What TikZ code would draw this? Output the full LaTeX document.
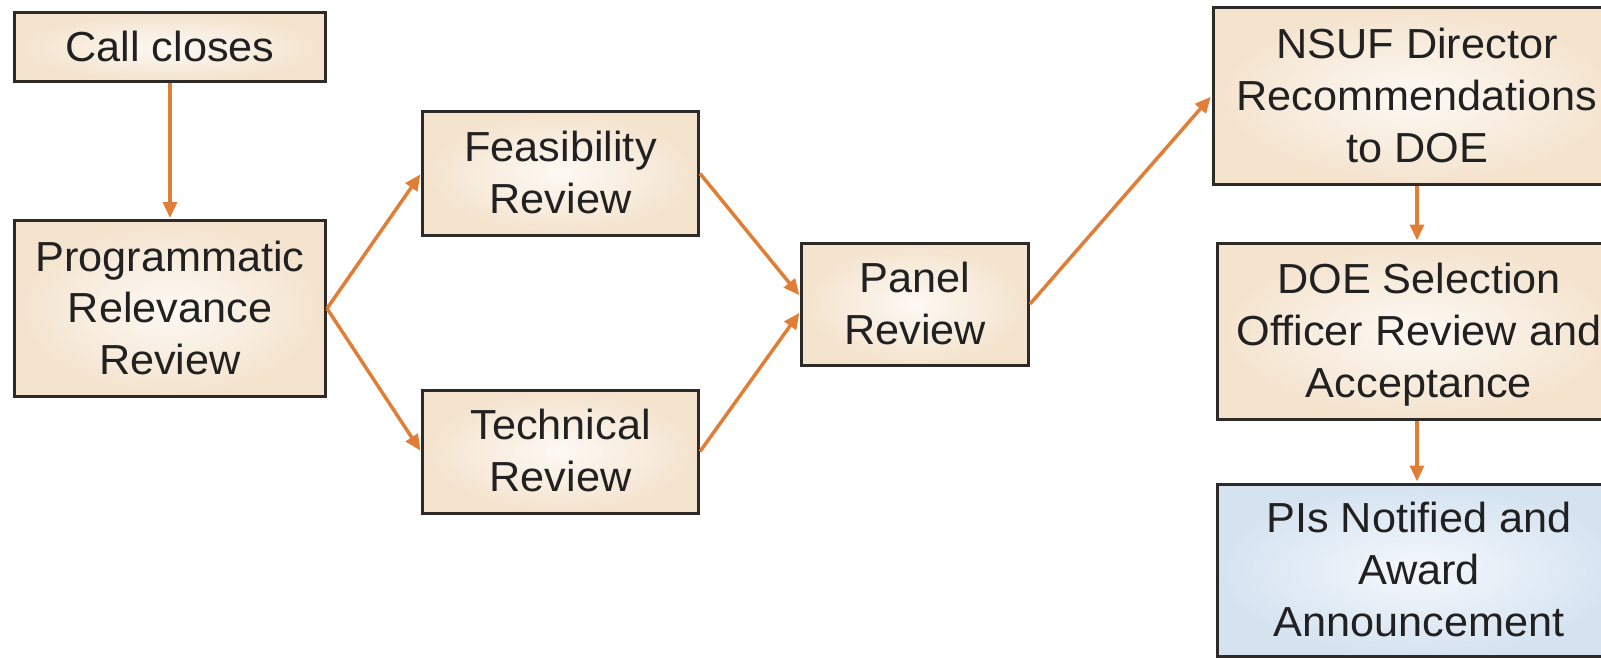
\documentclass[tikz,border=0pt]{standalone}
\usepackage{fontspec}
\setmainfont{Liberation Sans}
\usepackage{graphicx}
\usetikzlibrary{arrows.meta}
\definecolor{boxedge}{HTML}{2E2A27}
\definecolor{beigeout}{HTML}{F4E3CD}
\definecolor{beigein}{HTML}{FDF9F4}
\definecolor{blueout}{HTML}{D5E3F1}
\definecolor{bluein}{HTML}{F4F8FC}
\definecolor{arrowc}{HTML}{E07E36}
\newcommand{\boxtext}[1]{\raisebox{-4pt}[\height][\depth]{\scalebox{1.03}[1]{\begin{tabular}{@{}c@{}}#1\end{tabular}}}}
\begin{document}
\begin{tikzpicture}[x=1pt,y=-1pt,
  box/.style={draw=boxedge, line width=3pt, rectangle, inner sep=0pt,
    inner color=beigein, outer color=beigeout,
    font=\fontsize{42}{51.7}\selectfont, text=black!87},
  bluebox/.style={box, inner color=bluein, outer color=blueout},
  flow/.style={draw=arrowc, line width=3.5pt, shorten >=1pt,
    -{Triangle[length=16pt,width=14pt]}}]
\useasboundingbox (0,0) rectangle (1601,658);
\clip (0,0) rectangle (1601,658);
\node[box, minimum width=311pt, minimum height=69pt] (call) at (170,47.5) {\boxtext{Call closes}};
\node[box, minimum width=311pt, minimum height=176pt] (prog) at (170,308.5) {\boxtext{Programmatic\\Relevance\\Review}};
\node[box, minimum width=276pt, minimum height=123pt] (feas) at (560.5,173.5) {\boxtext{Feasibility\\Review}};
\node[box, minimum width=276pt, minimum height=123pt] (tech) at (560.5,451.5) {\boxtext{Technical\\Review}};
\node[box, minimum width=227pt, minimum height=122pt] (panel) at (915,304) {\boxtext{Panel\\Review}};
\node[box, minimum width=408pt, minimum height=176pt] (nsuf) at (1417,96) {\boxtext{NSUF Director\\Recommendations\\to DOE}};
\node[box, minimum width=404pt, minimum height=176pt] (doe) at (1419,331) {\boxtext{DOE Selection\\Officer Review and\\Acceptance}};
\node[bluebox, minimum width=404pt, minimum height=172pt] (pis) at (1419,570) {\boxtext{PIs Notified and\\Award\\Announcement}};
\draw[flow] (call.south) -- (prog.north);
\draw[flow] (prog.east) -- (feas.west);
\draw[flow] (prog.east) -- (tech.west);
\draw[flow] (feas.east) -- ([yshift=8pt]panel.west);
\draw[flow] (tech.east) -- ([yshift=-8pt]panel.west);
\draw[flow] (panel.east) -- (nsuf.west);
\draw[flow] (nsuf.south) -- (nsuf.south |- doe.north);
\draw[flow] (nsuf.south |- doe.south) -- (nsuf.south |- pis.north);
\end{tikzpicture}
\end{document}
